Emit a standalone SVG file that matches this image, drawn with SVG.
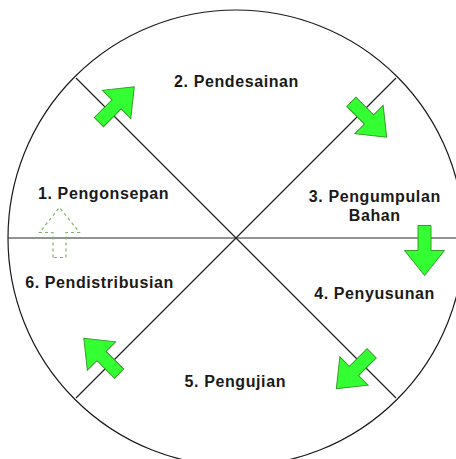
<svg xmlns="http://www.w3.org/2000/svg" width="456" height="459" viewBox="0 0 456 459">
<style>
.ring{fill:#ffffff;stroke:#1a1a1a;stroke-width:1.2}
.div{stroke:#262626;stroke-width:1.2;fill:none}
.lbl{font-family:"Liberation Sans",Arial,sans-serif;font-weight:bold;font-size:16px;letter-spacing:0.6px;fill:#1a1a1a;text-anchor:middle}
.arr{fill:#33ff33;stroke:#3a9a2a;stroke-width:1}
.arrd{fill:none;stroke:#82b366;stroke-width:1.2;stroke-dasharray:3 3}
</style>
<defs>
<path id="arrow" d="M-25,-6.5 H0 V-20 L25,0 L0,20 V6.5 H-25 Z"/>
</defs>
<rect width="456" height="459" fill="#ffffff"/>
<g id="circle">
<circle class="ring" cx="236" cy="238" r="228"/>
</g>
<g id="dividers">
<line class="div" x1="8" y1="238" x2="464" y2="238"/>
<line class="div" x1="76" y1="78" x2="396" y2="398"/>
<line class="div" x1="396" y1="78" x2="76" y2="398"/>
</g>
<g id="connectors">
<use href="#arrow" class="arr" transform="translate(116.6,104.4) rotate(-45)"/>
<use href="#arrow" class="arr" transform="translate(369,119.5) rotate(45)"/>
<use href="#arrow" class="arr" transform="translate(424.5,250.5) rotate(90)"/>
<use href="#arrow" class="arr" transform="translate(354,371) rotate(135)"/>
<use href="#arrow" class="arr" transform="translate(101.5,356) rotate(-135)"/>
<use href="#arrow" class="arrd" transform="translate(59.5,232.5) rotate(-90)"/>
</g>
<g id="node1"><text class="lbl" x="103.6" y="199.3">1. Pengonsepan</text></g>
<g id="node2"><text class="lbl" x="236.5" y="87">2. Pendesainan</text></g>
<g id="node3"><text class="lbl" x="374.8" y="201.7">3. Pengumpulan<tspan x="374.8" dy="19">Bahan</tspan></text></g>
<g id="node4"><text class="lbl" x="374.6" y="298.5">4. Penyusunan</text></g>
<g id="node5"><text class="lbl" x="235.3" y="387">5. Pengujian</text></g>
<g id="node6"><text class="lbl" x="99.5" y="287.5">6. Pendistribusian</text></g>
</svg>
